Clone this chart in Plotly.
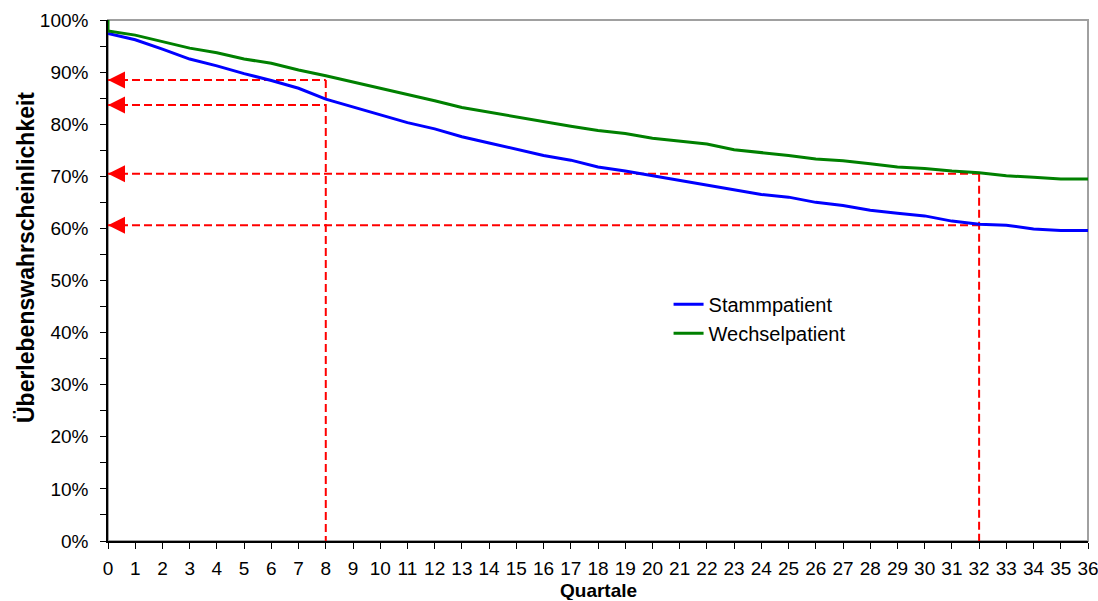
import plotly.graph_objects as go

# Survival probability per quarter (in %)
quarters = list(range(37))
stamm = [97.4, 96.2, 94.4, 92.5, 91.2, 89.7, 88.4, 86.9, 84.8, 83.3,
         81.8, 80.3, 79.1, 77.6, 76.4, 75.2, 74.0, 73.1, 71.8, 71.0,
         70.1, 69.3, 68.3, 67.4, 66.5, 66.0, 65.0, 64.4, 63.5, 62.9,
         62.4, 61.4, 60.8, 60.6, 59.9, 59.6, 59.6]
wechsel = [97.9, 97.1, 95.8, 94.6, 93.7, 92.5, 91.7, 90.4, 89.3, 88.1,
           87.0, 85.7, 84.5, 83.2, 82.3, 81.3, 80.5, 79.6, 78.8, 78.2,
           77.3, 76.8, 76.2, 75.1, 74.6, 74.0, 73.3, 73.0, 72.4, 71.8,
           71.5, 71.0, 70.7, 70.1, 69.8, 69.5, 69.5]
wechsel_start = 100.0

# Read-off guides: quarter and the probability marked on the y axis
read_quarters = [8, 8, 32, 32]
read_values = [88.5, 83.7, 70.5, 60.6]

y_tick_values = list(range(0, 101, 10))
y_tick_labels = [f"{v}%" for v in y_tick_values]

FONT = "Liberation Sans, Arial, sans-serif"
RED = "#FF0000"

fig = go.Figure()

# dashed guide lines (horizontal to the axis, vertical down to the quarter)
gx, gy = [], []
for q, v in zip(read_quarters, read_values):
    gx += [0, q, None]
    gy += [v, v, None]
for q in sorted(set(read_quarters)):
    top = max(v for qq, v in zip(read_quarters, read_values) if qq == q)
    gx += [q, q, None]
    gy += [top, 0, None]
fig.add_trace(go.Scatter(
    x=gx, y=gy, mode="lines", showlegend=False, hoverinfo="skip",
    line=dict(color=RED, width=2, dash="8px,4px"),
))

# arrow heads pointing at the y axis
fig.add_trace(go.Scatter(
    x=[0] * len(read_values), y=read_values, mode="markers",
    showlegend=False, hoverinfo="skip", cliponaxis=False,
    marker=dict(symbol="arrow-left", size=17, color=RED,
                line=dict(width=0)),
))

fig.add_trace(go.Scatter(
    x=quarters, y=stamm, mode="lines", name="Stammpatient",
    line=dict(color="#0000FF", width=3),
))
fig.add_trace(go.Scatter(
    x=[0] + quarters, y=[wechsel_start] + wechsel, mode="lines",
    name="Wechselpatient", cliponaxis=False,
    line=dict(color="#008000", width=3),
))

# grey frame on top and right of the plot area
fig.add_shape(type="rect", xref="x domain", yref="y domain",
              x0=0, x1=1, y0=0, y1=1, layer="below",
              line=dict(color="#A0A0A0", width=2))

# axis titles
fig.add_annotation(
    text="<b>Überlebenswahrscheinlichkeit</b>", textangle=-90,
    xref="paper", yref="paper", x=-0.0837, y=0.545,
    xanchor="center", yanchor="middle", showarrow=False,
    font=dict(size=23),
)
fig.add_annotation(
    text="<b>Quartale</b>",
    xref="paper", yref="paper", x=0.5, y=-0.1152,
    xanchor="center", yanchor="bottom", showarrow=False,
    height=19, borderpad=0, valign="middle",
    font=dict(size=19),
)

fig.update_layout(
    width=1098, height=601,
    margin=dict(l=108, r=10, t=20, b=60),
    paper_bgcolor="white", plot_bgcolor="white",
    font=dict(family=FONT, size=19, color="black"),
    showlegend=True,
    legend=dict(x=0.572, y=0.492, xanchor="left", yanchor="top",
                bgcolor="rgba(0,0,0,0)", borderwidth=0,
                font=dict(size=20)),
    xaxis=dict(
        range=[0, 36], tickmode="array", tickvals=quarters,
        ticktext=[str(q) for q in quarters],
        ticks="outside", ticklen=6, tickcolor="black", tickwidth=1,
        ticklabelstandoff=3, ticklabeloverflow="allow",
        showline=True, linecolor="black", linewidth=1.5,
        showgrid=False, zeroline=False, automargin=False,
    ),
    yaxis=dict(
        range=[0, 100], tickmode="array", tickvals=y_tick_values,
        ticktext=y_tick_labels,
        ticks="outside", ticklen=6, tickcolor="black", tickwidth=1,
        minor=dict(dtick=5, ticks="outside", ticklen=6,
                   tickcolor="black", tickwidth=1, showgrid=False),
        ticklabelstandoff=8,
        showline=True, linecolor="black", linewidth=1.5,
        showgrid=False, zeroline=False, automargin=False,
    ),
)

fig.write_html("out.html")
